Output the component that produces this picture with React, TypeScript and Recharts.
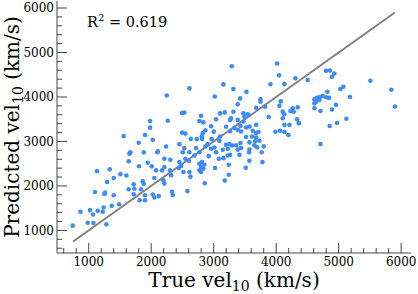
import React from 'react';
import { ScatterChart, Scatter, XAxis, YAxis, ReferenceLine } from 'recharts';

const trueVel = [
  744, 867, 984, 1021, 1069, 1075, 1144, 1224, 1240, 1283, 1368, 1485, 1101, 1261, 1251, 1400,
  1133, 1336, 1293, 1400, 1507, 1603, 1640, 1651, 1667, 1880, 1805, 1864, 1880, 1720, 1640, 1731,
  1837, 1720, 1901, 1816, 1901, 1560, 1800, 1901,
  2099, 2505, 2611, 2691, 2771, 2921, 3038, 3081, 3155, 3225, 3262, 1945, 2009, 2211, 2307, 2451,
  2547, 2601, 2771, 2814, 2851, 2798, 2835, 2771, 2798, 3241, 2211, 2078, 2174, 2302, 2441, 2478,
  2515, 2611, 3022, 2318, 2627, 2051, 2195, 2211, 3241, 3177, 2857, 2579, 2334, 2345, 2121, 2025, 2051,
  3412, 3572, 3780, 3513, 3769, 3567,
  3289, 2611, 3155, 2249, 3017, 3315, 2494, 2530, 2798, 3102, 3177, 3315, 1982, 2265, 2771, 2835,
  3038, 2958, 3198, 1982, 2867, 2825, 2494, 2547, 3001, 3262, 2025, 2633, 2729, 2814, 2905, 3091,
  3198, 3251, 3294, 2451, 2238, 2531, 2718, 2867, 2958, 3011, 3145, 3225, 2105, 3278, 3262, 2809,
  2969, 3102,
  4015, 4047, 4308, 4505, 3908, 4132, 3524, 3423, 3748, 3748, 4073, 3385, 4052, 3823, 3679, 4612,
  4655, 4697, 4612, 4639, 4692, 4345, 4265, 4228, 4281, 4105, 4132, 4612, 4708, 3476, 3545, 3492,
  3881, 4105, 4335, 4361, 3385, 3476, 4132, 4212, 3679, 3572, 3519, 3332, 3385, 3439, 3625, 3679,
  3716, 3988, 4063, 4132, 4196, 3615, 3519, 3679, 3732, 3663, 3428, 3359, 3572, 3652, 3695, 3439,
  3385, 3572, 3801, 4708, 3428, 3561,
  4797, 4861, 4931, 4893, 5507, 5843, 4819, 5027, 5075, 4744, 4797, 4845, 5181, 5901, 4957, 4893,
  5123, 4973, 4856,
];

const predVel = [
  1107, 1419, 1174, 1457, 1359, 1167, 1441, 1419, 1515, 1136, 1552, 1590, 1864, 1849, 1820, 1791,
  2332, 2376, 2087, 2176, 2265, 2236, 2555, 2726, 2755, 2755, 2443, 2102, 2049, 2036, 1924, 1938,
  1924, 1813, 1791, 1679, 1679, 3120, 2970, 3145,
  2759, 2759, 2759, 2685, 2759, 2670, 2759, 2610, 2625, 2685, 2699, 2521, 2440, 2610, 2588, 2536,
  2610, 2565, 2498, 2536, 2476, 2425, 2387, 2351, 2314, 2476, 2425, 2351, 2351, 2351, 2403, 2447,
  2314, 2314, 2403, 2240, 2209, 2180, 2129, 2053, 2253, 2120, 2062, 1884, 1868, 1795, 1772, 1808, 1741,
  2699, 2565, 2536, 2409, 2759, 2759,
  4691, 4194, 4283, 4032, 4009, 4179, 3637, 3649, 3577, 3631, 3653, 3667, 3459, 3466, 3459, 3430,
  3497, 3341, 3332, 3310, 3252, 3185, 3199, 3177, 3221, 3230, 3036, 3058, 3052, 3058, 2940, 3014,
  2925, 2940, 2909, 2940, 2887, 2851, 2851, 2887, 2836, 2865, 2814, 2836, 2776, 3520, 3482, 3110,
  3052, 3110,
  4753, 4486, 4419, 4381, 4286, 4292, 4115, 3968, 3946, 3892, 3901, 3834, 3803, 3781, 3759, 3946,
  3981, 3997, 3857, 3892, 3930, 3767, 3745, 3685, 3670, 3670, 3612, 3745, 3685, 3634, 3612, 3558,
  3551, 3522, 3500, 3411, 3485, 3447, 3373, 3373, 3373, 3335, 3313, 3300, 3262, 3224, 3240, 3188,
  3211, 3217, 3240, 3211, 3144, 3113, 3099, 3090, 3017, 3002, 2966, 2912, 2979, 2912, 2868, 2854,
  2817, 2817, 2890, 2943, 3351, 3596,
  4587, 4595, 4529, 4453, 4364, 4163, 4119, 4179, 4230, 4023, 3994, 3979, 4001, 3785, 3823, 3718,
  3511, 3415, 3348,
];

const xTicks = [600, 800, 1000, 1200, 1400, 1600, 1800, 2000, 2200, 2400, 2600, 2800, 3000, 3200, 3400, 3600, 3800, 4000, 4200, 4400, 4600, 4800, 5000, 5200, 5400, 5600, 5800, 6000];
const yTicks = xTicks;
const axisDomain: [number, number] = [492.5, 6157.5];
const fitStart = 750;
const fitEnd = 5900;
const r2Value = '0.619';

const data = trueVel.map((x, i) => ({ x, y: predVel[i] }));

const W = 418;
const H = 294;
const FONT = '"DejaVu Serif", serif';
const AX = '#444';
const DOT = '#3d8bf5';

const isMajor = (v: number) => v % 1000 === 0;

const BottomTick = (props: any) => {
  const { x, y, payload } = props;
  const v = payload.value;
  const m = isMajor(v);
  return (
    <g>
      <line x1={x} x2={x} y1={y} y2={y - (m ? 10 : 5)} stroke={AX} strokeWidth={1} />
      {m && (
        <text x={x} y={y + 13} textAnchor="middle" fontSize={12} fontFamily={FONT} fill="#000">
          {v}
        </text>
      )}
    </g>
  );
};

const TopTick = (props: any) => {
  const { x, y, payload } = props;
  const m = isMajor(payload.value);
  return <line x1={x} x2={x} y1={y} y2={y + (m ? 10 : 5)} stroke={AX} strokeWidth={1} />;
};

const LeftTick = (props: any) => {
  const { x, y, payload } = props;
  const v = payload.value;
  const m = isMajor(v);
  return (
    <g>
      <line x1={x} x2={x + (m ? 10 : 5)} y1={y} y2={y} stroke={AX} strokeWidth={1} />
      {m && (
        <text x={x - 3} y={y + 4.3} textAnchor="end" fontSize={12} fontFamily={FONT} fill="#000">
          {v}
        </text>
      )}
    </g>
  );
};

const RightTick = (props: any) => {
  const { x, y, payload } = props;
  const m = isMajor(payload.value);
  return <line x1={x} x2={x - (m ? 10 : 5)} y1={y} y2={y} stroke={AX} strokeWidth={1} />;
};

const Dot = (p: any) => <circle cx={p.cx} cy={p.cy} r={2.3} fill={DOT} />;

export default function App() {
  return (
    <div style={{ position: 'absolute', left: 0, top: 0, width: W, height: H, background: '#fff' }}>
      <ScatterChart width={W} height={H} margin={{ top: 1, right: 7, bottom: 0, left: 0 }}>
        <XAxis
          dataKey="x"
          type="number"
          domain={axisDomain}
          ticks={xTicks}
          interval={0}
          height={41}
          tickSize={0}
          tickMargin={0}
          tick={BottomTick}
          axisLine={{ stroke: AX }}
          allowDataOverflow
        />
        <XAxis
          xAxisId="top"
          orientation="top"
          type="number"
          domain={axisDomain}
          ticks={xTicks}
          interval={0}
          height={0}
          tickSize={0}
          tickMargin={0}
          tick={TopTick}
          axisLine={{ stroke: AX }}
          allowDataOverflow
        />
        <YAxis
          dataKey="y"
          type="number"
          domain={axisDomain}
          ticks={yTicks}
          interval={0}
          width={57}
          tickSize={0}
          tickMargin={0}
          tick={LeftTick}
          axisLine={{ stroke: AX }}
          allowDataOverflow
        />
        <YAxis
          yAxisId="right"
          orientation="right"
          type="number"
          domain={axisDomain}
          ticks={yTicks}
          interval={0}
          width={0}
          tickSize={0}
          tickMargin={0}
          tick={RightTick}
          axisLine={{ stroke: AX }}
          allowDataOverflow
        />
        <Scatter data={data} fill={DOT} shape={Dot} isAnimationActive={false} />
        <ReferenceLine
          segment={[{ x: fitStart, y: fitStart }, { x: fitEnd, y: fitEnd }]}
          stroke="#808080"
          strokeWidth={2}
          ifOverflow="visible"
        />
      </ScatterChart>
      <svg
        width={W}
        height={H}
        style={{ position: 'absolute', left: 0, top: 0, pointerEvents: 'none' }}
      >
        <text x={87} y={26.5} fontSize={14.5} fontFamily={FONT} fill="#000">
          R<tspan fontSize={10} dy={-6}>2</tspan>
          <tspan dy={6}>{` = ${r2Value}`}</tspan>
        </text>
        <text x={234} y={287} textAnchor="middle" fontSize={20} fontFamily={FONT} fill="#000">
          True vel<tspan fontSize={14} dy={4}>10</tspan>
          <tspan dy={-4}> (km/s)</tspan>
        </text>
        <text
          transform="translate(19,127) rotate(-90)"
          x={0}
          y={0}
          textAnchor="middle"
          fontSize={20}
          fontFamily={FONT}
          fill="#000"
        >
          Predicted vel<tspan fontSize={14} dy={4}>10</tspan>
          <tspan dy={-4}> (km/s)</tspan>
        </text>
      </svg>
    </div>
  );
}
